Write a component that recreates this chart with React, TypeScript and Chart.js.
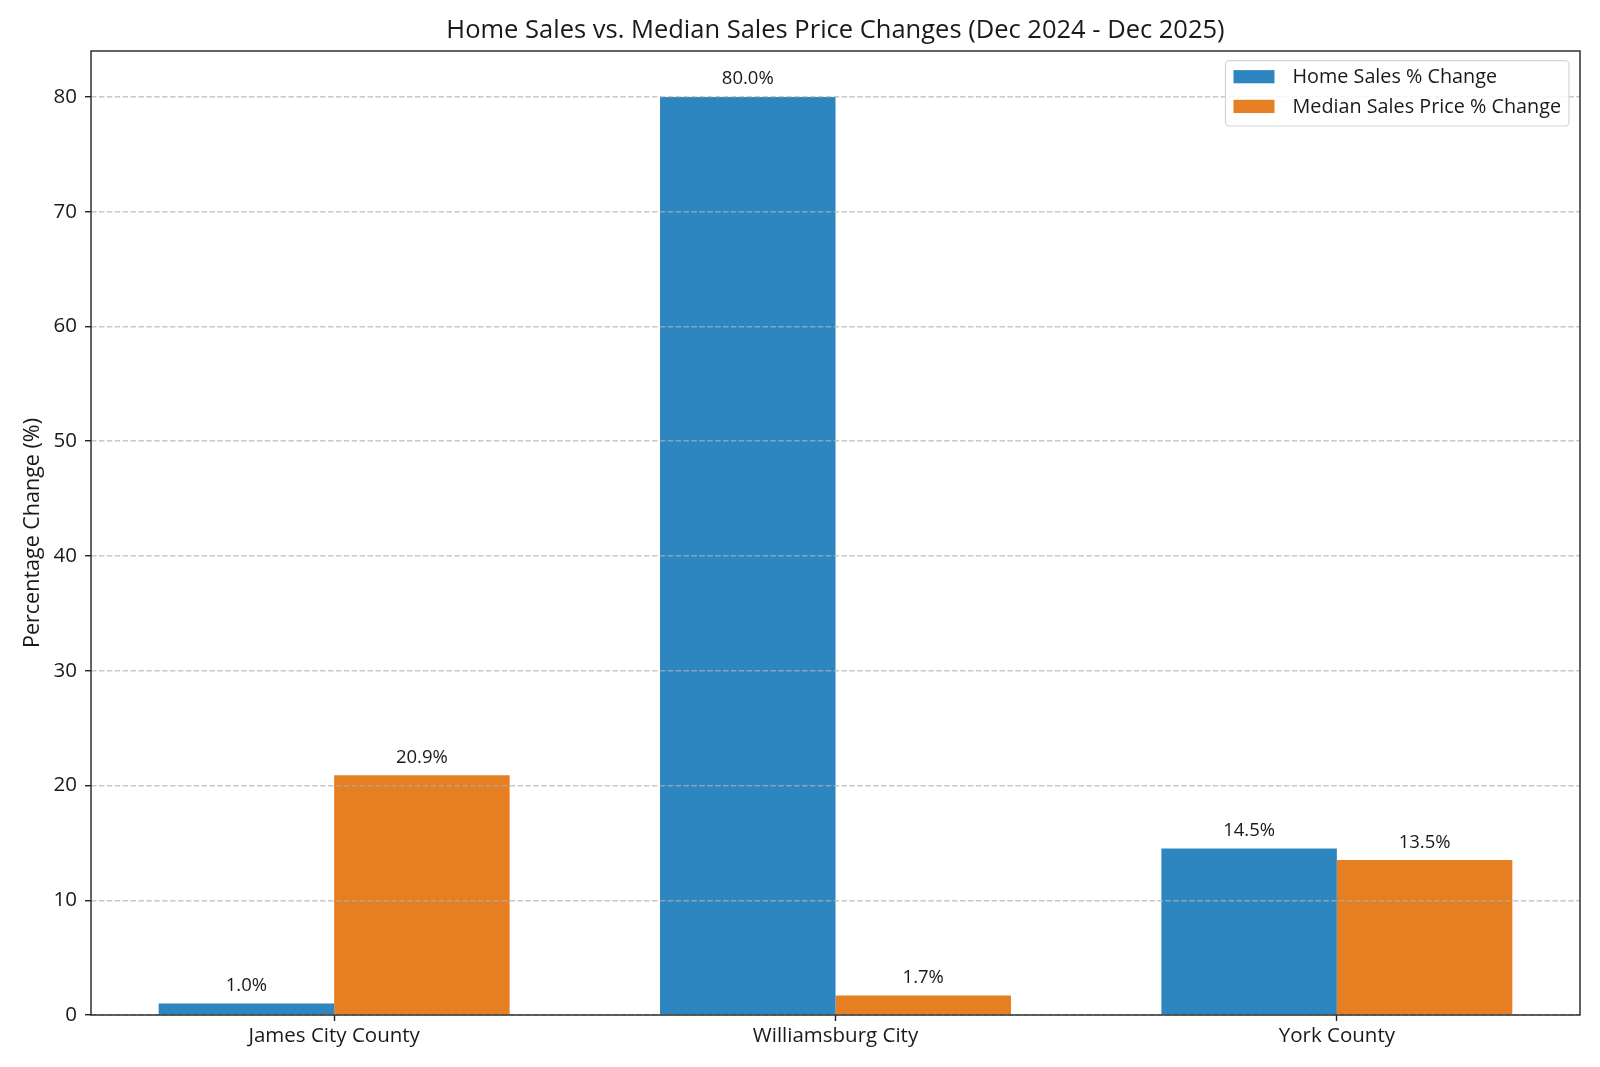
import React, { useEffect, useRef } from "react";
import { Chart, registerables } from "chart.js";

Chart.register(...registerables);

const categories = ["James City County", "Williamsburg City", "York County"];
const homeSalesChange = [1.0, 80.0, 14.5];
const medianPriceChange = [20.9, 1.7, 13.5];
const seriesLabels = ["Home Sales % Change", "Median Sales Price % Change"];
const seriesColors = ["#2E86C1", "#E67E22"];
const yTickValues = [0, 10, 20, 30, 40, 50, 60, 70, 80];
const titleText = "Home Sales vs. Median Sales Price Changes (Dec 2024 - Dec 2025)";
const yAxisTitle = "Percentage Change (%)";

const FONT = "'Open Sans', Roboto, sans-serif";
const TEXT = "#1a1a1a";
const FRAME = "#222222";

export default function App() {
  const ref = useRef<HTMLCanvasElement | null>(null);

  useEffect(() => {
    if (!ref.current) return;
    const series = [homeSalesChange, medianPriceChange];

    const valueLabels = {
      id: "valueLabels",
      afterDatasetsDraw(chart: any) {
        const ctx = chart.ctx;
        const ys = chart.scales.y;
        chart.data.datasets.forEach((ds: any, di: number) => {
          const meta = chart.getDatasetMeta(di);
          meta.data.forEach((el: any, i: number) => {
            const v = ds.data[i].y;
            ctx.save();
            ctx.font = `18.5px ${FONT}`;
            ctx.fillStyle = TEXT;
            ctx.textAlign = "center";
            ctx.textBaseline = "alphabetic";
            ctx.fillText(`${v.toFixed(1)}%`, el.x, ys.getPixelForValue(v + 1) - 1);
            ctx.restore();
          });
        });
      },
    };

    const frame = {
      id: "frame",
      afterDraw(chart: any) {
        const { ctx, chartArea: a } = chart;
        ctx.save();
        ctx.strokeStyle = FRAME;
        ctx.lineWidth = 1.4;
        ctx.strokeRect(a.left, a.top, a.right - a.left, a.bottom - a.top);
        ctx.restore();
      },
    };

    const boxLegend = {
      id: "boxLegend",
      afterDraw(chart: any) {
        const { ctx, chartArea: a } = chart;
        ctx.save();
        ctx.font = `19.8px ${FONT}`;
        const textW = Math.max(...seriesLabels.map((s) => ctx.measureText(s).width));
        const padX = 8;
        const patchW = 41;
        const gap = 18;
        const w = padX + patchW + gap + textW + padX;
        const h = 65.3;
        const right = a.right - 11;
        const top = a.top + 9.7;
        const left = right - w;
        ctx.beginPath();
        ctx.roundRect(left, top, w, h, 4);
        ctx.fillStyle = "rgba(255,255,255,0.85)";
        ctx.fill();
        ctx.strokeStyle = "#d4d4d4";
        ctx.lineWidth = 1.2;
        ctx.stroke();
        const rows = [top + 16, top + 45.7];
        seriesLabels.forEach((s, i) => {
          ctx.fillStyle = seriesColors[i];
          ctx.fillRect(left + padX, rows[i] - 6.6, patchW, 13.2);
          ctx.fillStyle = TEXT;
          ctx.textAlign = "left";
          ctx.textBaseline = "middle";
          ctx.fillText(s, left + padX + patchW + gap, rows[i] + 1);
        });
        ctx.restore();
      },
    };

    const chart = new Chart(ref.current, {
      type: "bar",
      data: {
        datasets: series.map((vals, si) => ({
          label: seriesLabels[si],
          data: vals.map((v, i) => ({ x: i, y: v })),
          backgroundColor: seriesColors[si],
          borderWidth: 0,
          barPercentage: 1,
          categoryPercentage: 0.7,
        })),
      },
      options: {
        responsive: false,
        animation: false,
        devicePixelRatio: 1,
        layout: { padding: { left: 0, right: 20, top: 0, bottom: 0 } },
        plugins: {
          legend: { display: false },
          tooltip: { enabled: false },
          title: {
            display: true,
            text: titleText,
            color: TEXT,
            font: { family: FONT, size: 25.5, weight: "normal", lineHeight: 1.2 },
            padding: { top: 15.3, bottom: 5.1 },
            fullSize: false,
          },
        },
        scales: {
          x: {
            type: "linear",
            offset: false,
            min: -0.485,
            max: 2.485,
            afterBuildTicks: (scale: any) => {
              scale.ticks = categories.map((_, i) => ({ value: i }));
            },
            afterFit: (scale: any) => {
              scale.height = 52;
            },
            grid: {
              offset: false,
              drawOnChartArea: false,
              drawTicks: true,
              tickLength: 6,
              tickColor: FRAME,
              tickWidth: 1.4,
            },
            border: { display: false },
            ticks: {
              callback: (value: any) => categories[Math.round(Number(value))] ?? "",
              color: TEXT,
              font: { family: FONT, size: 20.5 },
              padding: 3,
              maxRotation: 0,
              autoSkip: false,
            },
          },
          y: {
            type: "linear",
            min: 0,
            max: 84,
            afterBuildTicks: (scale: any) => {
              scale.ticks = yTickValues.map((v) => ({ value: v }));
            },
            afterFit: (scale: any) => {
              scale.width = 91;
            },
            grid: {
              color: "rgba(176,176,176,0.7)",
              lineWidth: 1.4,
              drawTicks: true,
              tickLength: 6,
              tickColor: FRAME,
              tickWidth: 1.4,
              tickBorderDash: [],
              z: 1,
            },
            border: { display: false, dash: [5.5, 2.4] },
            ticks: {
              color: TEXT,
              font: { family: FONT, size: 20.5 },
              padding: 8,
            },
            title: {
              display: true,
              text: yAxisTitle,
              color: TEXT,
              font: { family: FONT, size: 21.5 },
              padding: { top: 20, bottom: 0 },
            },
          },
        },
      },
      plugins: [valueLabels, frame, boxLegend],
    } as any);

    return () => chart.destroy();
  }, []);

  return (
    <div style={{ position: "absolute", left: 0, top: 0, width: 1600, height: 1067, background: "#fff" }}>
      <canvas ref={ref} width={1600} height={1067} />
    </div>
  );
}
